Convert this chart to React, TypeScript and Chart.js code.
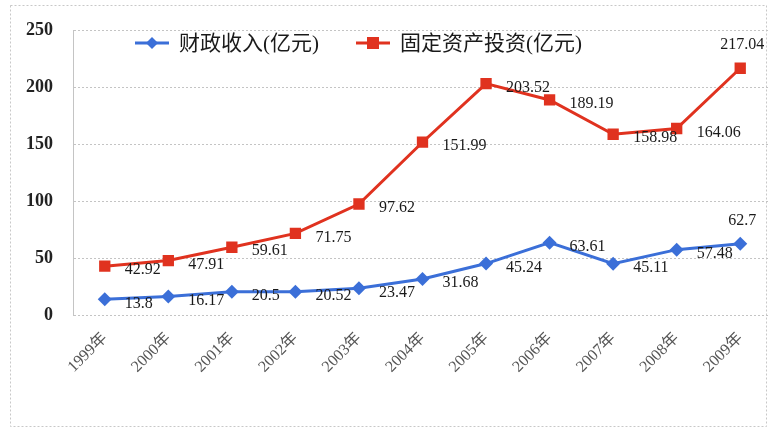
import React, { useEffect, useRef } from "react";
import { Chart, registerables } from "chart.js";

Chart.register(...registerables);

const years = ["1999年", "2000年", "2001年", "2002年", "2003年", "2004年", "2005年", "2006年", "2007年", "2008年", "2009年"];
const revenue = [13.8, 16.17, 20.5, 20.52, 23.47, 31.68, 45.24, 63.61, 45.11, 57.48, 62.7];
const investment = [42.92, 47.91, 59.61, 71.75, 97.62, 151.99, 203.52, 189.19, 158.98, 164.06, 217.04];
const revenueLabel = "财政收入(亿元)";
const investmentLabel = "固定资产投资(亿元)";
const yTicks = [0, 50, 100, 150, 200, 250];

const BLUE = "#3b6fd8";
const RED = "#e0321f";
const SERIF = "'Liberation Serif', 'Noto Sans CJK SC', serif";

const labelPlugin = {
  id: "valueLabels",
  afterDatasetsDraw(chart: any) {
    const ctx = chart.ctx;
    ctx.save();
    ctx.font = `16px ${SERIF}`;
    ctx.fillStyle = "#1a1a1a";
    chart.data.datasets.forEach((ds: any, di: number) => {
      const meta = chart.getDatasetMeta(di);
      meta.data.forEach((pt: any, i: number) => {
        const v = ds.data[i];
        const text = String(v);
        if (i === ds.data.length - 1) {
          ctx.textAlign = "center";
          ctx.textBaseline = "bottom";
          ctx.fillText(text, pt.x + 2, pt.y - 15);
        } else {
          ctx.textAlign = "left";
          ctx.textBaseline = "middle";
          ctx.fillText(text, pt.x + 20, pt.y + 4);
        }
      });
    });
    ctx.restore();
  },
};

const legendPlugin = {
  id: "customLegend",
  afterDatasetsDraw(chart: any) {
    const ctx = chart.ctx;
    ctx.save();
    const y = 43;
    const items = [
      { x: 135, label: revenueLabel, color: BLUE, style: "rectRot" },
      { x: 356, label: investmentLabel, color: RED, style: "rect" },
    ];
    items.forEach((it) => {
      ctx.strokeStyle = it.color;
      ctx.lineWidth = 3;
      ctx.beginPath();
      ctx.moveTo(it.x, y);
      ctx.lineTo(it.x + 34, y);
      ctx.stroke();
      ctx.fillStyle = it.color;
      const cx = it.x + 17;
      ctx.beginPath();
      if (it.style === "rect") {
        ctx.rect(cx - 6, y - 6, 12, 12);
      } else {
        ctx.moveTo(cx, y - 6);
        ctx.lineTo(cx + 6, y);
        ctx.lineTo(cx, y + 6);
        ctx.lineTo(cx - 6, y);
        ctx.closePath();
      }
      ctx.fill();
      ctx.fillStyle = "#1a1a1a";
      ctx.font = `21px ${SERIF}`;
      ctx.textAlign = "left";
      ctx.textBaseline = "middle";
      ctx.fillText(it.label, it.x + 44, y + 1);
    });
    ctx.restore();
  },
};

const framePlugin = {
  id: "frame",
  beforeDraw(chart: any) {
    const ctx = chart.ctx;
    ctx.save();
    ctx.fillStyle = "#ffffff";
    ctx.fillRect(0, 0, chart.width, chart.height);
    ctx.strokeStyle = "#c8c8c8";
    ctx.setLineDash([2, 2]);
    ctx.lineWidth = 1;
    ctx.strokeRect(10.5, 5.5, 756, 421);
    ctx.restore();
  },
};

export default function App() {
  const ref = useRef<HTMLCanvasElement | null>(null);
  useEffect(() => {
    if (!ref.current) return;
    const chart = new Chart(ref.current, {
      type: "line",
      data: {
        labels: years,
        datasets: [
          {
            label: revenueLabel,
            data: revenue,
            borderColor: BLUE,
            backgroundColor: BLUE,
            borderWidth: 3,
            pointStyle: "rectRot",
            pointRadius: 7,
            pointBorderWidth: 0,
            tension: 0,
          },
          {
            label: investmentLabel,
            data: investment,
            borderColor: RED,
            backgroundColor: RED,
            borderWidth: 3,
            pointStyle: "rect",
            pointRadius: 8,
            pointBorderWidth: 0,
            tension: 0,
          },
        ],
      },
      options: {
        animation: false,
        responsive: false,
        layout: { padding: { top: 27, right: 5, left: 0, bottom: 0 } },
        plugins: { legend: { display: false }, tooltip: { enabled: false } },
        scales: {
          x: {
            offset: true,
            grid: { display: false, drawTicks: false },
            border: { display: false },
            ticks: {
              minRotation: 45,
              maxRotation: 45,
              padding: 14,
              color: "#555",
              font: { family: SERIF, size: 16 },
            },
            afterFit: (s: any) => {
              s.height = 117;
            },
          },
          y: {
            min: 0,
            max: 250,
            afterBuildTicks: (s: any) => {
              s.ticks = yTicks.map((v) => ({ value: v }));
            },
            grid: {
              color: "#c4c4c4",
              drawTicks: false,
            },
            border: { display: true, color: "#c4c4c4", dash: [2, 2] },
            ticks: {
              padding: 20,
              color: "#222",
              font: { family: SERIF, size: 18, weight: "bold" },
            },
            afterFit: (s: any) => {
              s.width = 73;
            },
          },
        },
      },
      plugins: [framePlugin, labelPlugin, legendPlugin],
    } as any);
    (chart.options.scales as any).y.grid.borderDash = [2, 2];
    chart.update();
    return () => chart.destroy();
  }, []);
  return (
    <div style={{ position: "fixed", left: 0, top: 0, width: 768, height: 432, overflow: "hidden", background: "#fff" }}>
      <canvas ref={ref} width={780} height={432} style={{ width: 780, height: 432, display: "block" }} />
    </div>
  );
}
